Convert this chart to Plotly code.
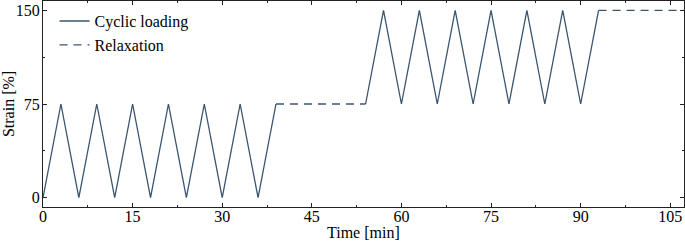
import plotly.graph_objects as go

# Cyclic loading phases (time in min, strain in %)
cyc1_time = [0, 3, 6, 9, 12, 15, 18, 21, 24, 27, 30, 33, 36, 39]
cyc1_strain = [0, 75, 0, 75, 0, 75, 0, 75, 0, 75, 0, 75, 0, 75]
cyc2_time = [54, 57, 60, 63, 66, 69, 72, 75, 78, 81, 84, 87, 90, 93]
cyc2_strain = [75, 150, 75, 150, 75, 150, 75, 150, 75, 150, 75, 150, 75, 150]

# Relaxation holds
rel1_time = [39, 54]
rel1_strain = [75, 75]
rel2_time = [93, 107.3]
rel2_strain = [150, 150]

x_ticks = [0, 15, 30, 45, 60, 75, 90, 105]
y_ticks = [0, 75, 150]

color = "#3a5570"
font = "Liberation Serif, DejaVu Serif, serif"

fig = go.Figure()
fig.add_trace(go.Scatter(
    x=cyc1_time + [None] + cyc2_time,
    y=cyc1_strain + [None] + cyc2_strain,
    mode="lines", name="Cyclic loading",
    line=dict(color=color, width=1.3),
))
fig.add_trace(go.Scatter(
    x=rel1_time + [None] + rel2_time,
    y=rel1_strain + [None] + rel2_strain,
    mode="lines", name="Relaxation",
    line=dict(color=color, width=1.3, dash="8px,6px"),
))

axis_common = dict(
    showline=True, linecolor="#222", linewidth=1, mirror="allticks",
    ticks="inside", ticklen=4, tickcolor="#222", tickwidth=0.8,
    showgrid=False, zeroline=False,
    tickfont=dict(family=font, size=16, color="black"),
)

fig.update_xaxes(
    range=[0, 107.3], tickvals=x_ticks, ticktext=[str(v) for v in x_ticks],
    minor=dict(ticks="inside", dtick=7.5, tick0=0, ticklen=2, tickcolor="#222"),
    ticklabelstandoff=-5,
    **axis_common,
)
fig.update_yaxes(
    range=[-7.5, 157.5], tickvals=y_ticks, ticktext=[str(v) for v in y_ticks],
    title=dict(text="Strain [%]", font=dict(family=font, size=16, color="black"), standoff=2),
    minor=dict(ticks="inside", dtick=37.5, tick0=0, ticklen=2, tickcolor="#222"),
    ticklabelstandoff=-1,
    **axis_common,
)

fig.add_annotation(
    text="Time [min]", xref="paper", yref="paper", x=0.5, y=-25 / 206,
    xanchor="center", yanchor="middle", showarrow=False,
    font=dict(family=font, size=16, color="black"),
)

fig.update_layout(
    width=685, height=242,
    margin=dict(l=43, r=1, t=1, b=35, autoexpand=False),
    plot_bgcolor="white", paper_bgcolor="white",
    font=dict(family=font, size=16, color="black"),
    legend=dict(x=0.018, y=0.985, xanchor="left", yanchor="top",
                bgcolor="rgba(0,0,0,0)", font=dict(family=font, size=16),
                tracegroupgap=0, itemwidth=30),
    showlegend=True,
)

fig.write_html("out.html", config={"displayModeBar": False},
               post_script="document.body.style.margin='0';")
